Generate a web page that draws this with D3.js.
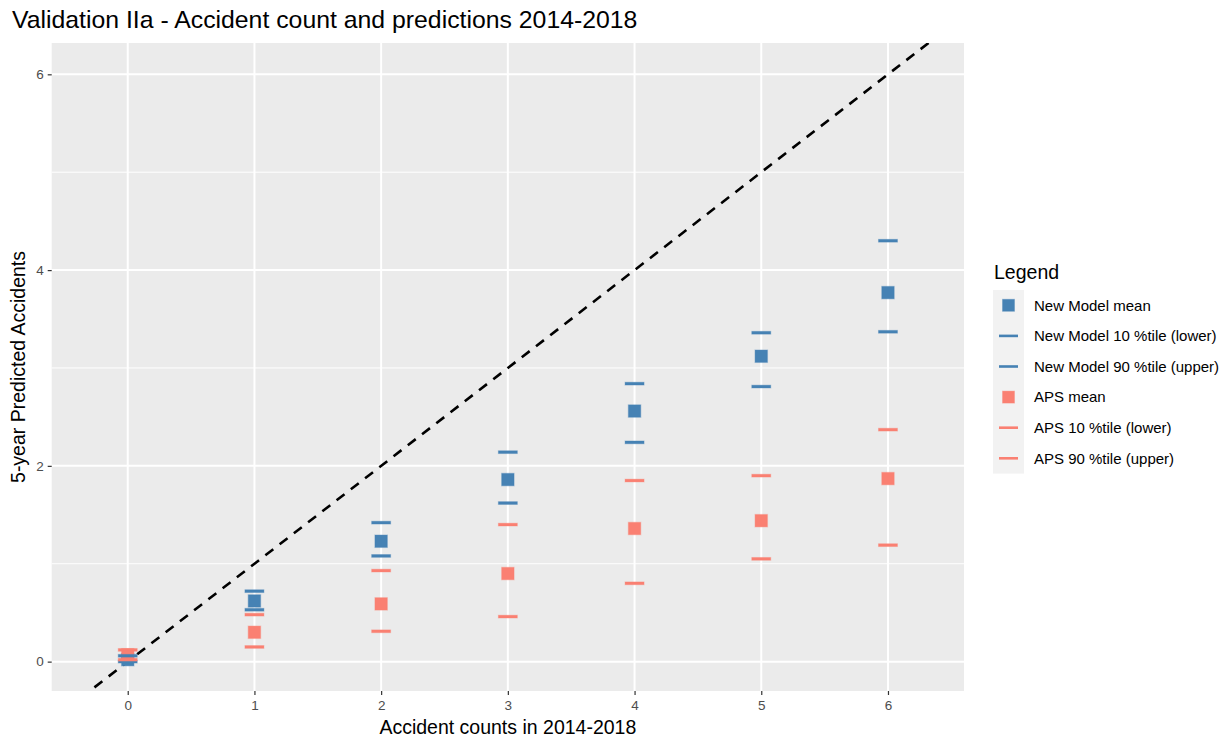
<!DOCTYPE html>
<html>
<head>
<meta charset="utf-8">
<script src="https://cdn.jsdelivr.net/npm/d3@7"></script>
<style>
  html, body { margin: 0; padding: 0; background: #fff; }
  svg { display: block; font-family: "Liberation Sans", Arial, sans-serif; }
</style>
</head>
<body>
<svg id="chart" width="1231" height="738"></svg>
<script>
// ---- data ----
const counts   = [0, 1, 2, 3, 4, 5, 6];
const nmMean   = [0.02, 0.62, 1.23, 1.86, 2.56, 3.12, 3.77];
const nmLower  = [0.00, 0.53, 1.08, 1.62, 2.24, 2.81, 3.37];
const nmUpper  = [0.06, 0.72, 1.42, 2.14, 2.84, 3.36, 4.30];
const apsMean  = [0.07, 0.30, 0.59, 0.90, 1.36, 1.44, 1.87];
const apsLower = [0.02, 0.15, 0.31, 0.46, 0.80, 1.05, 1.19];
const apsUpper = [0.12, 0.48, 0.93, 1.40, 1.85, 1.90, 2.37];
const yTicks   = [0, 2, 4, 6];
const yMinor   = [1, 3, 5];
const legendLabels = ["New Model mean", "New Model 10 %tile (lower)", "New Model 90 %tile (upper)",
                      "APS mean", "APS 10 %tile (lower)", "APS 90 %tile (upper)"];

const BLUE = "#4682B4", SALMON = "#FA8072";

const svg = d3.select("#chart");
const P = { left: 51.7, right: 964, top: 43, bottom: 691 };

const x = d3.scaleLinear().domain([-0.6, 6.6]).range([P.left, P.right]);
const y = d3.scaleLinear().domain([-0.3, 6.32]).range([P.bottom, P.top]);

// panel
svg.append("rect").attr("x", P.left).attr("y", P.top)
  .attr("width", P.right - P.left).attr("height", P.bottom - P.top).attr("fill", "#EBEBEB");

svg.append("defs").append("clipPath").attr("id", "clip")
  .append("rect").attr("x", P.left).attr("y", P.top)
  .attr("width", P.right - P.left).attr("height", P.bottom - P.top);

const grid = svg.append("g");
grid.selectAll(".ymin").data(yMinor).join("line")
  .attr("x1", P.left).attr("x2", P.right).attr("y1", d => y(d)).attr("y2", d => y(d))
  .attr("stroke", "#fff").attr("stroke-width", 1);
grid.selectAll(".ymaj").data(yTicks).join("line")
  .attr("x1", P.left).attr("x2", P.right).attr("y1", d => y(d)).attr("y2", d => y(d))
  .attr("stroke", "#fff").attr("stroke-width", 2);
grid.selectAll(".xmaj").data(counts).join("line")
  .attr("y1", P.top).attr("y2", P.bottom).attr("x1", d => x(d)).attr("x2", d => x(d))
  .attr("stroke", "#fff").attr("stroke-width", 2);

// identity dashed line
const plot = svg.append("g").attr("clip-path", "url(#clip)");
plot.append("line")
  .attr("x1", x(-0.6)).attr("y1", y(-0.6)).attr("x2", x(6.6)).attr("y2", y(6.6))
  .attr("stroke", "#000").attr("stroke-width", 2.6).attr("stroke-dasharray", "10,8");

function dashes(vals, color) {
  plot.append("g").selectAll("rect").data(vals).join("rect")
    .attr("x", (d, i) => x(counts[i]) - 9.5).attr("y", d => y(d) - 1.4)
    .attr("width", 19).attr("height", 2.8)
    .attr("fill", color).attr("stroke", color).attr("stroke-opacity", 0.35).attr("stroke-width", 1);
}
function squares(vals, color) {
  plot.append("g").selectAll("rect").data(vals).join("rect")
    .attr("x", (d, i) => x(counts[i]) - 6.2).attr("y", d => y(d) - 6.2)
    .attr("width", 12.4).attr("height", 12.4)
    .attr("fill", color).attr("stroke", color).attr("stroke-opacity", 0.35).attr("stroke-width", 1.2);
}
squares(nmMean, BLUE);
squares(apsMean, SALMON);
dashes(nmLower, BLUE);
dashes(nmUpper, BLUE);
dashes(apsLower, SALMON);
dashes(apsUpper, SALMON);

// axes
const xAxis = svg.append("g").attr("transform", `translate(0,${P.bottom})`)
  .call(d3.axisBottom(x).tickValues(counts).tickSize(4).tickPadding(5).tickFormat(d3.format("d")));
const yAxis = svg.append("g").attr("transform", `translate(${P.left},0)`)
  .call(d3.axisLeft(y).tickValues(yTicks).tickSize(4).tickPadding(4).tickFormat(d3.format("d")));
[xAxis, yAxis].forEach(a => {
  a.select(".domain").remove();
  a.selectAll(".tick line").attr("stroke", "#333333").attr("stroke-width", 1.2);
  a.selectAll(".tick text").attr("fill", "#4D4D4D").style("font-size", "13.5px")
    .style("font-family", "Liberation Sans, Arial, sans-serif");
});

// titles
svg.append("text").attr("x", 12).attr("y", 28).text("Validation IIa - Accident count and predictions 2014-2018")
  .style("font-size", "24.8px").attr("fill", "#000");
svg.append("text").attr("x", (P.left + P.right) / 2).attr("y", 734).attr("text-anchor", "middle")
  .text("Accident counts in 2014-2018").style("font-size", "19.5px").attr("fill", "#000");
svg.append("text").attr("transform", `translate(25,${(P.top + P.bottom) / 2}) rotate(-90)`)
  .attr("text-anchor", "middle").text("5-year Predicted Accidents").style("font-size", "19.5px").attr("fill", "#000");

// legend
const lg = svg.append("g");
lg.append("text").attr("x", 994).attr("y", 279).text("Legend").style("font-size", "19.5px").attr("fill", "#000");
const keyTop = 290, keyH = 30.6;
lg.append("rect").attr("x", 993).attr("y", keyTop).attr("width", 31).attr("height", keyH * 6).attr("fill", "#F2F2F2");
const legendColors = [BLUE, BLUE, BLUE, SALMON, SALMON, SALMON];
const legendShapes = ["sq", "dash", "dash", "sq", "dash", "dash"];
legendLabels.forEach((lab, i) => {
  const cy = keyTop + keyH * i + keyH / 2;
  if (legendShapes[i] === "sq") {
    lg.append("rect").attr("x", 1008.5 - 6).attr("y", cy - 6).attr("width", 12).attr("height", 12)
      .attr("fill", legendColors[i]).attr("stroke", legendColors[i]).attr("stroke-opacity", 0.35);
  } else {
    lg.append("rect").attr("x", 1008.5 - 9.5).attr("y", cy - 1.3).attr("width", 19).attr("height", 2.6)
      .attr("fill", legendColors[i]);
  }
  lg.append("text").attr("x", 1034).attr("y", cy).attr("dy", "0.35em").text(lab)
    .style("font-size", "15px").attr("fill", "#000");
});
</script>
</body>
</html>
